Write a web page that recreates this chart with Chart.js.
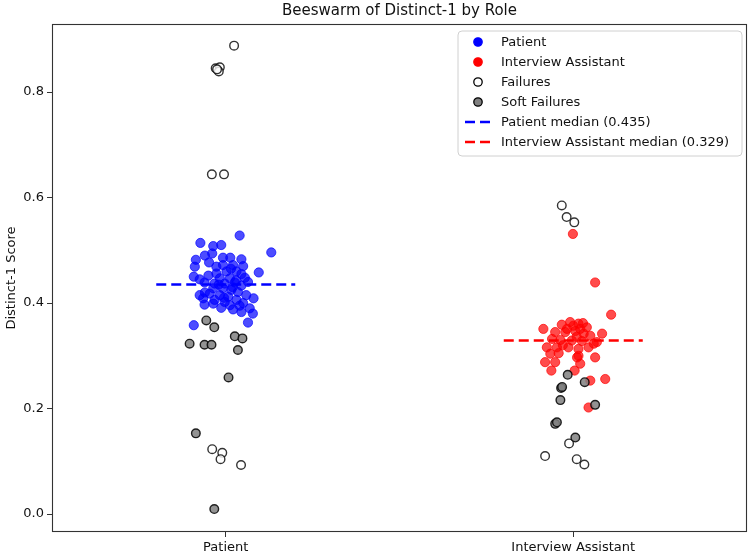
<!DOCTYPE html>
<html>
<head>
<meta charset="utf-8">
<script src="https://cdn.jsdelivr.net/npm/chart.js@4.4.1/dist/chart.umd.min.js"></script>
<style>
  html, body { margin: 0; padding: 0; background: #ffffff; }
  #wrap { width: 753px; height: 556px; position: relative; }
</style>
</head>
<body>
<div id="wrap"><canvas id="c" width="753" height="556"></canvas></div>
<script>
// ---------------- data ----------------
const chartTitle = 'Beeswarm of Distinct-1 by Role';
const yAxisTitle = 'Distinct-1 Score';
const categories = ['Patient', 'Interview Assistant'];
const yTickValues = [0.0, 0.2, 0.4, 0.6, 0.8];
const medians = [0.435, 0.329];

// Patient (normal)
const patientScores = [0.528,0.514,0.508,0.510,0.496,0.494,0.482,0.477,0.486,0.486,0.483,0.469,0.469,0.472,0.472,0.458,0.450,0.456,0.460,0.460,0.447,0.447,0.448,0.440,0.439,0.437,0.437,0.439,0.433,0.428,0.428,0.425,0.421,0.415,0.418,0.415,0.412,0.415,0.409,0.406,0.402,0.406,0.409,0.397,0.399,0.396,0.395,0.391,0.388,0.390,0.383,0.380,0.363,0.358,0.452,0.443,0.465,0.430,0.400,0.455,0.420,0.435,0.470,0.490,0.410,0.445];
const patientJitter = [0.040,-0.073,-0.036,-0.013,0.131,-0.039,-0.086,-0.048,-0.008,0.013,0.045,-0.089,-0.027,-0.008,0.021,0.095,-0.092,-0.027,0.002,0.031,-0.017,0.012,0.055,0.064,-0.061,-0.032,-0.003,0.026,0.045,-0.036,-0.008,0.016,0.035,-0.075,-0.046,-0.017,0.007,0.059,-0.065,-0.032,-0.003,0.031,0.080,-0.061,-0.036,0.012,0.040,-0.013,0.021,0.069,0.045,0.078,0.064,-0.092,-0.050,0.030,0.015,0.020,0.050,0.045,-0.060,-0.020,0.050,-0.060,-0.005,-0.075];
// Patient failures
const patientFailScores = [0.888,0.845,0.847,0.839,0.843,0.644,0.644,0.123,0.116,0.104,0.093];
const patientFailJitter = [0.024,-0.029,-0.017,-0.020,-0.025,-0.040,-0.005,-0.039,-0.010,-0.015,0.044];
// Patient soft failures
const patientSoftScores = [0.259,0.153,0.0095,0.367,0.354,0.323,0.321,0.321,0.337,0.333,0.311];
const patientSoftJitter = [0.008,-0.086,-0.033,-0.056,-0.033,-0.104,-0.061,-0.041,0.026,0.048,0.035];

// Interview Assistant (normal)
const assistantScores = [0.531,0.439,0.378,0.256,0.253,0.202,0.272,0.272,0.285,0.297,0.351,0.342,0.359,0.364,0.361,0.354,0.345,0.345,0.347,0.342,0.338,0.332,0.330,0.329,0.328,0.326,0.316,0.316,0.316,0.313,0.316,0.323,0.304,0.305,0.300,0.297,0.288,0.288,0.351,0.351,0.357,0.362,0.336,0.320];
const assistantJitter = [-0.001,0.063,0.109,0.092,0.049,0.044,-0.063,0.004,0.020,0.011,-0.086,0.083,-0.033,-0.009,0.015,0.039,-0.052,-0.023,0.006,0.030,0.049,-0.061,-0.037,-0.004,0.025,0.068,-0.076,-0.047,-0.014,0.015,0.044,0.059,-0.066,-0.042,0.015,0.063,-0.081,-0.052,-0.018,0.020,0.000,0.028,0.010,-0.030];
// Interview Assistant failures
const assistantFailScores = [0.585,0.563,0.553,0.134,0.110,0.104,0.094];
const assistantFailJitter = [-0.033,-0.019,0.003,-0.012,-0.081,0.010,0.032];
// Interview Assistant soft failures
const assistantSoftScores = [0.264,0.250,0.239,0.241,0.216,0.207,0.171,0.174,0.145];
const assistantSoftJitter = [-0.016,0.033,-0.035,-0.032,-0.037,0.063,-0.052,-0.047,0.006];

// ---------------- build ----------------
function toPoints(scores, jitter, catIndex) {
  return scores.map((v, i) => ({ x: catIndex + jitter[i], y: v }));
}
const FONT = "'DejaVu Sans', 'Liberation Sans', sans-serif";

const datasets = [
  {
    label: 'Patient', type: 'scatter',
    data: toPoints(patientScores, patientJitter, 0),
    backgroundColor: 'rgba(0,0,255,0.7)', borderColor: 'rgba(0,0,255,0.7)',
    pointRadius: 4.6, borderWidth: 1, order: 5
  },
  {
    label: 'Interview Assistant', type: 'scatter',
    data: toPoints(assistantScores, assistantJitter, 1),
    backgroundColor: 'rgba(255,0,0,0.7)', borderColor: 'rgba(255,0,0,0.7)',
    pointRadius: 4.6, borderWidth: 1, order: 5
  },
  {
    label: 'Failures', type: 'scatter',
    data: toPoints(patientFailScores, patientFailJitter, 0).concat(toPoints(assistantFailScores, assistantFailJitter, 1)),
    backgroundColor: 'rgba(255,255,255,0.8)', borderColor: 'rgba(0,0,0,0.8)',
    pointRadius: 4.3, borderWidth: 1.4, order: 3
  },
  {
    label: 'Soft Failures', type: 'scatter',
    data: toPoints(patientSoftScores, patientSoftJitter, 0).concat(toPoints(assistantSoftScores, assistantSoftJitter, 1)),
    backgroundColor: 'rgba(128,128,128,0.85)', borderColor: 'rgba(0,0,0,0.85)',
    pointRadius: 4.3, borderWidth: 1.4, order: 2
  },
  {
    label: 'Patient median (' + medians[0].toFixed(3) + ')', type: 'line',
    data: [{ x: -0.2, y: medians[0] }, { x: 0.2, y: medians[0] }],
    borderColor: '#0000ff', borderWidth: 2.5, borderDash: [10, 5], pointRadius: 0, fill: false, order: 1
  },
  {
    label: 'Interview Assistant median (' + medians[1].toFixed(3) + ')', type: 'line',
    data: [{ x: 0.8, y: medians[1] }, { x: 1.2, y: medians[1] }],
    borderColor: '#ff0000', borderWidth: 2.5, borderDash: [10, 5], pointRadius: 0, fill: false, order: 1
  }
];

// frame + title + legend plugin
const decor = {
  id: 'decor',
  beforeDatasetsDraw(chart) {
    const { ctx, chartArea: a } = chart;
    ctx.save();
    ctx.strokeStyle = '#333333';
    ctx.lineWidth = 1.1;
    ctx.strokeRect(a.left + 0.5, a.top + 0.5, a.right - a.left - 1, a.bottom - a.top - 1);
    ctx.restore();
  },
  afterDraw(chart) {
    const { ctx, chartArea: a } = chart;
    ctx.save();
    // title
    ctx.fillStyle = '#111111';
    ctx.font = '15px ' + FONT;
    ctx.textAlign = 'center';
    ctx.textBaseline = 'middle';
    ctx.fillText(chartTitle, (a.left + a.right) / 2, 11);

    // legend
    const bx = 458, by = 31, bw = 284, bh = 125, r = 4;
    ctx.beginPath();
    ctx.moveTo(bx + r, by);
    ctx.lineTo(bx + bw - r, by); ctx.quadraticCurveTo(bx + bw, by, bx + bw, by + r);
    ctx.lineTo(bx + bw, by + bh - r); ctx.quadraticCurveTo(bx + bw, by + bh, bx + bw - r, by + bh);
    ctx.lineTo(bx + r, by + bh); ctx.quadraticCurveTo(bx, by + bh, bx, by + bh - r);
    ctx.lineTo(bx, by + r); ctx.quadraticCurveTo(bx, by, bx + r, by);
    ctx.closePath();
    ctx.fillStyle = 'rgba(255,255,255,0.85)';
    ctx.fill();
    ctx.strokeStyle = '#d0d0d0';
    ctx.lineWidth = 1;
    ctx.stroke();

    const rowY0 = 42, rowH = 20, markX = 478, textX = 501;
    ctx.font = '13px ' + FONT;
    ctx.textAlign = 'left';
    ctx.textBaseline = 'middle';
    const legendStyles = [
      { kind: 'dot', fill: '#0000ff', stroke: '#0000ff' },
      { kind: 'dot', fill: '#ff0000', stroke: '#ff0000' },
      { kind: 'dot', fill: '#ffffff', stroke: '#000000' },
      { kind: 'dot', fill: '#808080', stroke: '#000000' },
      { kind: 'dash', stroke: '#0000ff' },
      { kind: 'dash', stroke: '#ff0000' }
    ];
    chart.data.datasets.forEach((ds, i) => {
      const y = rowY0 + i * rowH;
      const st = legendStyles[i];
      if (st.kind === 'dot') {
        ctx.beginPath();
        ctx.arc(markX, y, 4.2, 0, Math.PI * 2);
        ctx.fillStyle = st.fill; ctx.fill();
        ctx.lineWidth = 1.3; ctx.strokeStyle = st.stroke; ctx.stroke();
      } else {
        ctx.beginPath();
        ctx.setLineDash([10, 5]);
        ctx.lineWidth = 2.5; ctx.strokeStyle = st.stroke;
        ctx.moveTo(465, y); ctx.lineTo(491, y); ctx.stroke();
        ctx.setLineDash([]);
      }
      ctx.fillStyle = '#111111';
      ctx.fillText(ds.label, textX, y + 0.5);
    });
    ctx.restore();
  }
};

new Chart(document.getElementById('c'), {
  type: 'scatter',
  data: { datasets },
  options: {
    responsive: false,
    animation: false,
    layout: { padding: { left: 0, right: 6, top: 24, bottom: 0 } },
    plugins: { legend: { display: false }, title: { display: false }, tooltip: { enabled: false } },
    scales: {
      x: {
        type: 'linear', min: -0.5, max: 1.5,
        afterBuildTicks: (s) => { s.ticks = categories.map((c, i) => ({ value: i })); },
        afterFit: (s) => { s.height = 24; },
        ticks: {
          callback: (v) => categories[v] !== undefined ? categories[v] : '',
          font: { family: FONT, size: 13 }, color: '#111111', padding: 3, maxRotation: 0, autoSkip: false
        },
        grid: { display: true, drawOnChartArea: false, drawTicks: true, tickLength: 5, color: '#333333', lineWidth: 1 },
        border: { display: false }
      },
      y: {
        type: 'linear', min: -0.034, max: 0.929,
        afterBuildTicks: (s) => { s.ticks = yTickValues.map(v => ({ value: v })); },
        afterFit: (s) => { s.width = 52; },
        ticks: {
          callback: (v) => Number(v).toFixed(1),
          font: { family: FONT, size: 13 }, color: '#111111', padding: 3
        },
        grid: { display: true, drawOnChartArea: false, drawTicks: true, tickLength: 5, color: '#333333', lineWidth: 1 },
        border: { display: false },
        title: { display: true, text: yAxisTitle, font: { family: FONT, size: 13 }, color: '#111111', padding: { top: 4, bottom: 0 } }
      }
    }
  },
  plugins: [decor]
});
</script>
</body>
</html>
